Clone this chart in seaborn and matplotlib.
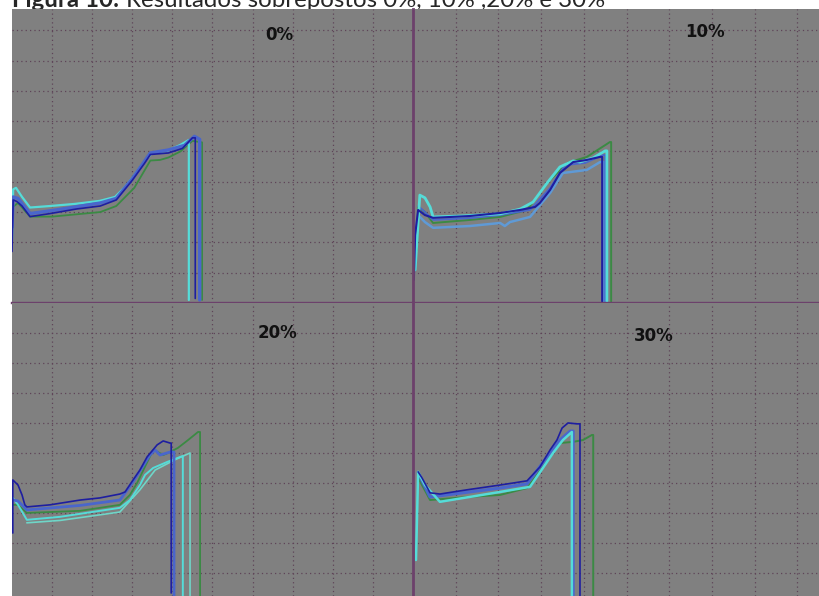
#!/usr/bin/env python3
"""
Figura 10 - resultados sobrepostos (0%, 10%, 20% e 30%).
Quatro paineis com curvas sobrepostas, fundo cinza e grade pontilhada,
como na captura de tela do ensaio.
"""

import numpy as np
import matplotlib
matplotlib.use("Agg")  # sem janela
import matplotlib.pyplot as plt
import seaborn as sns

# ----- Cores -----
AZUL_ESCURO = "#1e1ea0"
AZUL = "#4a66cc"
AZUL_CLARO = "#5f9ad6"
CIANO = "#55dcd8"
VERDE = "#3b8a44"
FUNDO = "#808080"
GRADE = "#5e4458"
DIVISAO = "#6c416b"

# ----- Dados (unidades = divisoes da grade) -----
# Painel 0%
x0_ciano = [0.0, 0.03, 0.10, 0.25, 0.45, 0.95, 1.57, 2.19, 2.57, 2.82, 3.02, 3.27, 3.49, 3.87, 4.19, 4.41, 4.41]
y0_ciano = [2.1, 3.75, 3.80, 3.50, 3.15, 3.20, 3.27, 3.37, 3.50, 3.83, 4.16, 4.62, 4.95, 5.02, 5.21, 5.38, 0.10]
x0_verde = [0.05, 0.15, 0.45, 1.0, 2.2, 2.6, 3.05, 3.45, 3.69, 3.9, 4.2, 4.5, 4.74, 4.74]
y0_verde = [3.2, 3.3, 2.85, 2.85, 3.0, 3.2, 3.8, 4.7, 4.72, 4.8, 5.0, 5.35, 5.3, 0.10]
x0_azul = [0.0, 0.03, 0.15, 0.45, 1.0, 2.2, 2.6, 3.0, 3.45, 3.9, 4.3, 4.55, 4.68, 4.68]
y0_azul = [2.5, 3.5, 3.45, 2.95, 3.05, 3.3, 3.45, 4.1, 4.95, 5.05, 5.2, 5.5, 5.4, 0.10]
x0_escuro = [0.0, 0.03, 0.12, 0.25, 0.45, 0.95, 1.6, 2.2, 2.6, 3.0, 3.3, 3.45, 3.9, 4.25, 4.5, 4.57, 4.57]
y0_escuro = [1.7, 3.4, 3.35, 3.2, 2.85, 2.95, 3.1, 3.2, 3.4, 4.05, 4.6, 4.9, 4.95, 5.1, 5.45, 5.45, 0.15]

# Painel 10%
x10_ciano = [0.05, 0.16, 0.28, 0.40, 0.47, 1.10, 2.04, 2.51, 2.81, 3.14, 3.44, 3.75, 3.91, 4.22, 4.50, 4.54, 4.54]
y10_ciano = [1.09, 3.56, 3.47, 3.17, 2.84, 2.87, 2.94, 3.10, 3.33, 3.96, 4.49, 4.69, 4.65, 4.79, 5.02, 5.02, 0.05]
x10_verde = [0.09, 0.12, 0.28, 0.47, 1.33, 2.04, 2.67, 3.14, 3.61, 4.07, 4.61, 4.64, 4.64]
y10_verde = [1.75, 3.17, 3.0, 2.64, 2.74, 2.84, 3.07, 3.96, 4.62, 4.82, 5.31, 5.31, 0.05]
x10_claro = [0.12, 0.28, 0.47, 1.33, 2.04, 2.15, 2.27, 2.74, 3.21, 3.51, 4.07, 4.38, 4.47, 4.47]
y10_claro = [2.9, 2.67, 2.48, 2.54, 2.64, 2.54, 2.67, 2.84, 3.63, 4.29, 4.39, 4.65, 4.65, 0.05]
x10_azul = [0.12, 0.28, 0.47, 1.33, 2.04, 2.74, 3.21, 3.56, 4.03, 4.45, 4.50, 4.50]
y10_azul = [3.2, 3.0, 2.74, 2.80, 2.90, 3.07, 3.80, 4.55, 4.62, 4.88, 4.88, 0.05]
x10_escuro = [0.02, 0.05, 0.12, 0.28, 0.47, 1.33, 2.04, 2.51, 2.86, 2.97, 3.21, 3.44, 3.75, 4.07, 4.38, 4.43, 4.43]
y10_escuro = [0.76, 2.24, 3.07, 2.90, 2.81, 2.87, 2.97, 3.07, 3.17, 3.30, 3.73, 4.29, 4.65, 4.72, 4.82, 4.82, 0.05]

# Painel 20%
x20_claro = [0.37, 1.2, 2.69, 3.19, 3.57, 4.06, 4.44, 4.44]
y20_claro = [2.67, 2.75, 3.03, 3.77, 4.43, 4.77, 5.0, 0.2]
x20_ciano = [0.02, 0.15, 0.37, 1.20, 2.69, 2.94, 3.19, 3.32, 3.52, 3.87, 4.26, 4.26]
y20_ciano = [3.50, 3.27, 2.77, 2.87, 3.17, 3.43, 3.93, 4.27, 4.50, 4.70, 4.90, 0.2]
x20_verde = [0.02, 0.15, 0.37, 1.70, 2.69, 2.94, 3.12, 3.52, 3.64, 3.77, 3.94, 4.14, 4.39, 4.64, 4.69, 4.69]
y20_verde = [3.27, 3.27, 3.0, 3.07, 3.27, 3.60, 4.0, 5.10, 5.03, 4.93, 5.03, 5.17, 5.43, 5.70, 5.70, 0.2]
x20_azul = [0.02, 0.15, 0.37, 1.70, 2.69, 3.0, 3.44, 3.57, 3.69, 3.94, 4.04, 4.04]
y20_azul = [3.43, 3.40, 3.10, 3.25, 3.43, 4.0, 4.93, 5.10, 4.93, 5.03, 5.03, 0.2]
x20_escuro = [0.02, 0.02, 0.15, 0.25, 0.32, 0.37, 0.95, 1.70, 2.19, 2.69, 2.82, 3.02, 3.19, 3.37, 3.62, 3.77, 3.94, 3.97, 3.97]
y20_escuro = [2.33, 4.10, 3.93, 3.60, 3.27, 3.20, 3.27, 3.43, 3.50, 3.63, 3.70, 4.10, 4.43, 4.87, 5.27, 5.40, 5.33, 5.33, 0.33]

# Painel 30%
x30_ciano = [0.07, 0.12, 0.28, 0.63, 2.04, 2.74, 3.09, 3.28, 3.51, 3.72, 3.72]
y30_ciano = [1.43, 4.37, 3.93, 3.37, 3.70, 3.87, 4.60, 5.0, 5.43, 5.70, 0.2]
x30_verde = [0.12, 0.40, 1.26, 2.04, 2.67, 3.04, 3.44, 3.75, 3.98, 4.19, 4.22, 4.22]
y30_verde = [4.17, 3.43, 3.53, 3.60, 3.83, 4.53, 5.33, 5.37, 5.43, 5.60, 5.60, 0.2]
x30_azul = [0.12, 0.40, 2.04, 2.67, 3.09, 3.44, 3.68, 3.75, 3.75]
y30_azul = [4.33, 3.53, 3.83, 3.97, 4.77, 5.43, 5.73, 5.73, 0.2]
x30_escuro = [0.12, 0.21, 0.40, 0.63, 1.26, 2.04, 2.67, 2.97, 3.21, 3.37, 3.49, 3.63, 3.84, 3.91, 3.91]
y30_escuro = [4.37, 4.17, 3.67, 3.63, 3.77, 3.93, 4.07, 4.53, 5.10, 5.43, 5.83, 6.0, 5.97, 5.97, 0.2]

# ----- Layout (em pixels da imagem 820x596) -----
LARG, ALT = 820, 596


def caixa(x0, y0, x1, y1):
    """Converte retangulo em pixels (origem no topo) para fracao da figura."""
    return [x0 / LARG, 1 - y1 / ALT, (x1 - x0) / LARG, (y1 - y0) / ALT]


PAINEIS = [
    {"rotulo": "0%", "caixa": caixa(12, 9, 413, 303), "xlim": (0, 10), "ylim": (0, 9.70),
     "pos_rotulo": (0.666, 0.911),
     "series": [(x0_verde, y0_verde, VERDE, 1.3), (x0_ciano, y0_ciano, CIANO, 1.6),
                (x0_azul, y0_azul, AZUL, 2.4), (x0_escuro, y0_escuro, AZUL_ESCURO, 1.2)]},
    {"rotulo": "10%", "caixa": caixa(413, 9, 820, 303), "xlim": (0, 9.53), "ylim": (0, 9.70),
     "pos_rotulo": (0.717, 0.921),
     "series": [(x10_verde, y10_verde, VERDE, 1.4), (x10_claro, y10_claro, AZUL_CLARO, 1.8),
                (x10_azul, y10_azul, AZUL, 1.3), (x10_ciano, y10_ciano, CIANO, 2.0),
                (x10_escuro, y10_escuro, AZUL_ESCURO, 1.5)]},
    {"rotulo": "20%", "caixa": caixa(12, 303, 413, 596), "xlim": (0, 10), "ylim": (0.23, 10),
     "pos_rotulo": (0.661, 0.898),
     "series": [(x20_verde, y20_verde, VERDE, 1.3), (x20_claro, y20_claro, "#6fd6c8", 1.2),
                (x20_ciano, y20_ciano, CIANO, 1.4), (x20_azul, y20_azul, AZUL, 2.0),
                (x20_escuro, y20_escuro, AZUL_ESCURO, 1.2)]},
    {"rotulo": "30%", "caixa": caixa(413, 303, 820, 596), "xlim": (0, 9.53), "ylim": (0.23, 10),
     "pos_rotulo": (0.592, 0.887),
     "series": [(x30_verde, y30_verde, VERDE, 1.4), (x30_azul, y30_azul, AZUL, 2.2),
                (x30_ciano, y30_ciano, CIANO, 1.8), (x30_escuro, y30_escuro, AZUL_ESCURO, 1.2)]},
]

sns.set_style("white", {"axes.facecolor": FUNDO})
plt.rcParams["font.family"] = ["Lato", "DejaVu Sans"]

fig = plt.figure(figsize=(LARG / 100, ALT / 100), dpi=100, facecolor="white")

for i, p in enumerate(PAINEIS):
    ax = fig.add_axes(p["caixa"])
    for xs, ys, cor, lw in p["series"]:
        sns.lineplot(x=xs, y=ys, sort=False, estimator=None, color=cor, lw=lw, ax=ax)
    ax.set_xlim(*p["xlim"])
    ax.set_ylim(*p["ylim"])
    ax.set_xticks(np.arange(1, 10))
    ax.set_yticks(np.arange(1, 10))
    ax.grid(True, color=GRADE, linestyle=(0, (1, 2.5)), linewidth=0.9)
    ax.tick_params(length=0, labelbottom=False, labelleft=False)
    ax.set_xlabel("")
    ax.set_ylabel("")
    for lado in ax.spines.values():
        lado.set_visible(False)
    # linhas roxas que separam os quadros
    if i in (0, 1):
        ax.spines["bottom"].set_visible(True)
        ax.spines["bottom"].set_color(DIVISAO)
        ax.spines["bottom"].set_linewidth(1.7)
    if i in (1, 3):
        ax.spines["left"].set_visible(True)
        ax.spines["left"].set_color(DIVISAO)
        ax.spines["left"].set_linewidth(2.0)
    ax.text(*p["pos_rotulo"], p["rotulo"], transform=ax.transAxes, ha="center", va="center",
            fontsize=12, fontweight="bold", color="#111111", family="DejaVu Sans")

# Legenda da figura: fica por baixo do cinza e aparece cortada, como na captura
y_base = 1 - 7 / ALT
t1 = fig.text(12 / LARG, y_base, "Figura 10:", fontsize=16, fontweight="bold",
              va="baseline", zorder=-1)
t2 = fig.text(0, y_base, "Resultados sobrepostos 0%, 10% ,20% e 30%",
              fontsize=16, va="baseline", zorder=-1)

# mesmo tamanho nas duas partes, ajustado para ocupar de x=12 a x=607 px
renderer = fig.canvas.get_renderer()
espaco = 0.3 * 16 * 100 / 72
total = (t1.get_window_extent(renderer=renderer).width + espaco
         + t2.get_window_extent(renderer=renderer).width)
tamanho = 16 * 595 / total
t1.set_fontsize(tamanho)
t2.set_fontsize(tamanho)
fim_t1 = t1.get_window_extent(renderer=renderer).x1
t2.set_x((fim_t1 + 0.3 * tamanho * 100 / 72) / LARG)

fig.savefig("out.png", dpi=100)
